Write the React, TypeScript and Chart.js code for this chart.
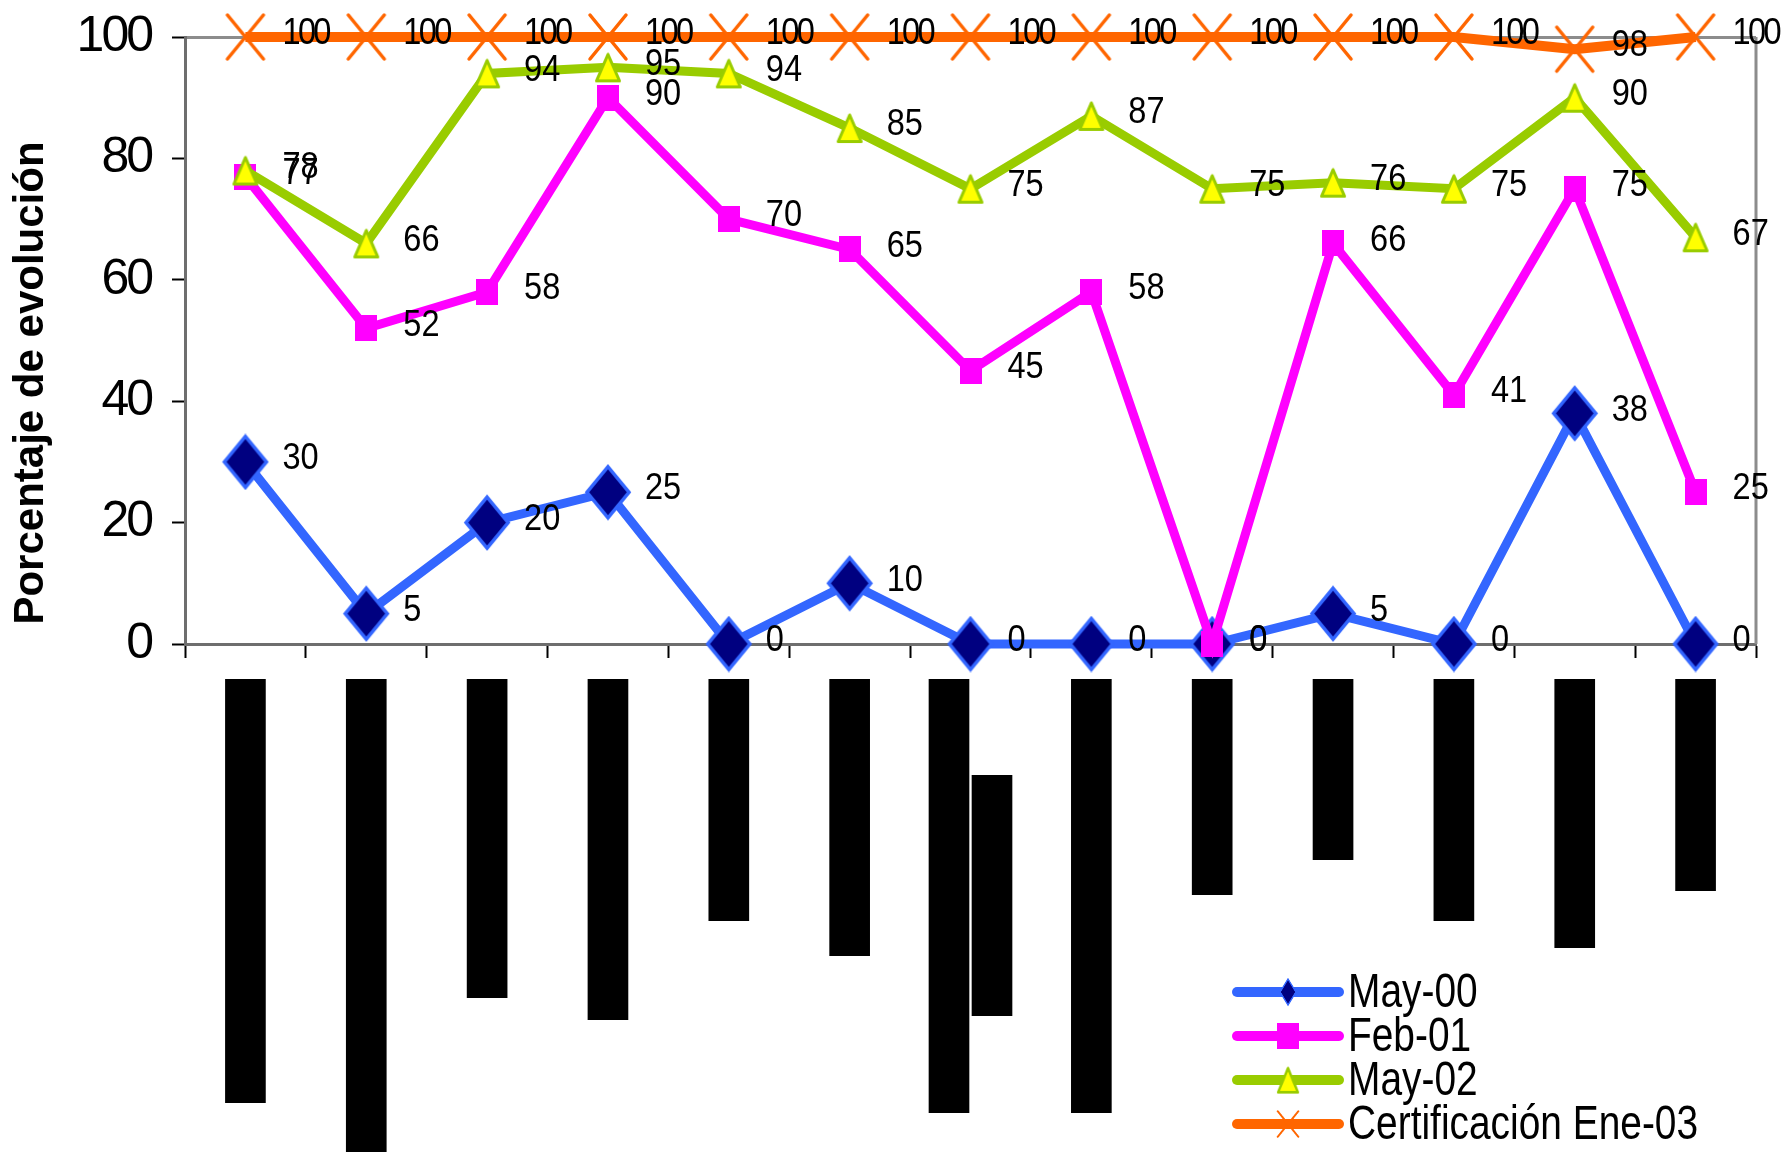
import { useEffect, useRef } from 'react';
import { Chart, registerables } from 'chart.js';

Chart.register(...registerables);

// ---------------- data ----------------
const categories = ['1', '2', '3', '4', '5', '6', '7', '8', '9', '10', '11', '12', '13'];
const seriesNames = ['May-00', 'Feb-01', 'May-02', 'Certificación Ene-03'];
const may00 = [30, 5, 20, 25, 0, 10, 0, 0, 0, 5, 0, 38, 0];
const feb01 = [77, 52, 58, 90, 70, 65, 45, 58, 0, 66, 41, 75, 25];
const may02 = [78, 66, 94, 95, 94, 85, 75, 87, 75, 76, 75, 90, 67];
const certEne03 = [100, 100, 100, 100, 100, 100, 100, 100, 100, 100, 100, 98, 100];
const yTitle = 'Porcentaje de evolución';
const yMin = 0;
const yMax = 100;
const yStep = 20;

// redacted (blacked-out) category labels below the axis, as start/end lengths
const labelBoxStart = [3.5, 3.5, 3.5, 3.5, 3.5, 3.5, 3.5, 3.5, 3.5, 3.5, 3.5, 3.5, 3.5];
const labelBoxEnd = [45.9, 52.0, 35.4, 37.6, 27.7, 31.2, 46.9, 46.9, 25.1, 21.6, 27.7, 30.4, 24.7];
const labelBox2Start = [null, null, null, null, null, null, 13.1, null, null, null, null, null, null];
const labelBox2End = [null, null, null, null, null, null, 37.2, null, null, null, null, null, null];
const labelBoxMax = 50.8;

const FONT = "'Liberation Sans', Arial, Helvetica, sans-serif";
const COLORS = ['#3366FF', '#FF00FF', '#99CC00', '#FF6600'];

// ---------------- marker images ----------------
function makeCanvas(w: number, h: number) {
  const c = document.createElement('canvas');
  c.width = w;
  c.height = h;
  return c;
}

function diamondMarker() {
  const c = makeCanvas(48, 57);
  const ctx = c.getContext('2d')!;
  const cx = 24, cy = 28.5, w = 42, h = 51;
  ctx.beginPath();
  ctx.moveTo(cx, cy - h / 2);
  ctx.lineTo(cx + w / 2, cy);
  ctx.lineTo(cx, cy + h / 2);
  ctx.lineTo(cx - w / 2, cy);
  ctx.closePath();
  ctx.fillStyle = '#000080';
  ctx.fill();
  ctx.lineWidth = 3.5;
  ctx.strokeStyle = '#3366FF';
  ctx.stroke();
  return c;
}

function squareMarker() {
  const c = makeCanvas(22, 26);
  const ctx = c.getContext('2d')!;
  ctx.fillStyle = '#FF00FF';
  ctx.fillRect(0, 0, 22, 26);
  return c;
}

function triangleMarker() {
  const c = makeCanvas(28, 32);
  const ctx = c.getContext('2d')!;
  ctx.beginPath();
  ctx.moveTo(14, 3);
  ctx.lineTo(25.5, 29.5);
  ctx.lineTo(2.5, 29.5);
  ctx.closePath();
  ctx.fillStyle = '#FFFF00';
  ctx.fill();
  ctx.lineWidth = 3;
  ctx.lineJoin = 'round';
  ctx.strokeStyle = '#99CC00';
  ctx.stroke();
  return c;
}

function crossMarker() {
  const c = makeCanvas(42, 50);
  const ctx = c.getContext('2d')!;
  ctx.strokeStyle = '#FF6600';
  ctx.lineWidth = 3.5;
  ctx.lineCap = 'round';
  ctx.beginPath();
  ctx.moveTo(3, 3);
  ctx.lineTo(39, 47);
  ctx.moveTo(39, 3);
  ctx.lineTo(3, 47);
  ctx.stroke();
  return c;
}

export default function App() {
  const canvasRef = useRef<HTMLCanvasElement | null>(null);

  useEffect(() => {
    document.body.style.margin = '0';
    const canvas = canvasRef.current;
    if (!canvas) return;

    const markers = [diamondMarker(), squareMarker(), triangleMarker(), crossMarker()];
    const legendSizes = [
      [18, 29],
      [22, 26],
      [24, 29],
      [24, 29],
    ];
    const lineSeries = [may00, feb01, may02, certEne03];

    const tickSpacingPlugin = {
      id: 'tickSpacing',
      beforeDraw(chart: any) {
        (chart.ctx as any).letterSpacing = '-3px';
      },
    };

    const framePlugin = {
      id: 'frame',
      beforeDatasetsDraw(chart: any) {
        const { ctx, chartArea, scales } = chart;
        const y = scales.y;
        ctx.save();
        ctx.strokeStyle = '#8c8c8c';
        ctx.lineWidth = 3;
        ctx.beginPath();
        ctx.moveTo(chartArea.right, y.getPixelForValue(yMax));
        ctx.lineTo(chartArea.right, y.getPixelForValue(yMin));
        ctx.stroke();
        ctx.restore();
      },
    };

    const pointLabelsPlugin = {
      id: 'pointLabels',
      afterDatasetsDraw(chart: any) {
        const ctx = chart.ctx;
        ctx.save();
        ctx.font = `37px ${FONT}`;
        ctx.fillStyle = '#000';
        ctx.textBaseline = 'middle';
        ctx.textAlign = 'left';
        lineSeries.forEach((vals, di) => {
          const meta = chart.getDatasetMeta(di);
          meta.data.forEach((pt: any, i: number) => {
            const text = String(vals[i]);
            ctx.save();
            ctx.translate(pt.x + 37, pt.y - 3);
            ctx.scale(0.88, 1);
            (ctx as any).letterSpacing = text.length >= 3 ? '-3px' : '0px';
            ctx.fillText(text, 0, 0);
            ctx.restore();
          });
        });
        ctx.restore();
      },
    };

    const legendTitlePlugin = {
      id: 'legendTitle',
      afterDraw(chart: any) {
        const ctx = chart.ctx;
        // y axis title
        ctx.save();
        (ctx as any).letterSpacing = '0px';
        ctx.translate(31, 383);
        ctx.rotate(-Math.PI / 2);
        ctx.font = `bold 42px ${FONT}`;
        ctx.fillStyle = '#000';
        ctx.textAlign = 'center';
        ctx.textBaseline = 'middle';
        ctx.fillText(yTitle, 0, 0);
        ctx.restore();

        // legend
        const x0 = 1237, x1 = 1339, tx = 1348, top = 992, gap = 44;
        seriesNames.forEach((name, i) => {
          const yy = top + i * gap;
          ctx.save();
          (ctx as any).letterSpacing = '0px';
          ctx.strokeStyle = COLORS[i];
          ctx.lineWidth = 10;
          ctx.lineCap = 'round';
          ctx.beginPath();
          ctx.moveTo(x0, yy);
          ctx.lineTo(x1, yy);
          ctx.stroke();
          const [w, h] = legendSizes[i];
          const cx = (x0 + x1) / 2;
          ctx.drawImage(markers[i], cx - w / 2, yy - h / 2, w, h);
          ctx.translate(tx, yy + 2);
          ctx.scale(0.81, 1);
          ctx.font = `48px ${FONT}`;
          ctx.fillStyle = '#000';
          ctx.textAlign = 'left';
          ctx.textBaseline = 'middle';
          ctx.fillText(name, 0, 0);
          ctx.restore();
        });
      },
    };

    const lineDataset = (i: number, data: number[], width: number) => ({
      type: 'line' as const,
      label: seriesNames[i],
      data,
      yAxisID: 'y',
      xAxisID: 'x',
      borderColor: COLORS[i],
      backgroundColor: COLORS[i],
      borderWidth: width,
      tension: 0,
      fill: false,
      clip: false as any,
      pointStyle: markers[i] as any,
      pointRadius: 10,
      order: 4 - i,
    });

    const chart = new Chart(canvas, {
      type: 'line',
      data: {
        labels: categories,
        datasets: [
          lineDataset(0, may00, 9),
          lineDataset(1, feb01, 9),
          lineDataset(2, may02, 9),
          lineDataset(3, certEne03, 10),
          {
            type: 'bar' as const,
            label: 'label-boxes',
            data: labelBoxStart.map((s, i) => [s, labelBoxEnd[i]]) as any,
            yAxisID: 'yb',
            xAxisID: 'x',
            backgroundColor: '#000',
            borderColor: '#fff',
            borderWidth: { left: 1.5, right: 1.5, top: 0, bottom: 0 } as any,
            borderSkipped: false,
            barThickness: 43,
            skipNull: true,
            order: 10,
          } as any,
          {
            type: 'bar' as const,
            label: 'label-boxes-2',
            data: labelBox2Start.map((s, i) => (s === null ? null : [s, labelBox2End[i]])) as any,
            yAxisID: 'yb',
            xAxisID: 'x',
            backgroundColor: '#000',
            borderColor: '#fff',
            borderWidth: { left: 1.5, right: 1.5, top: 0, bottom: 0 } as any,
            borderSkipped: false,
            barThickness: 43,
            skipNull: true,
            order: 11,
          } as any,
        ],
      },
      options: {
        responsive: false,
        devicePixelRatio: 1,
        animation: false,
        events: [],
        layout: { autoPadding: false, padding: { top: 37, right: 31, bottom: 0, left: 0 } },
        plugins: {
          legend: { display: false },
          tooltip: { enabled: false },
          title: { display: false },
        },
        scales: {
          x: {
            type: 'category',
            position: { y: 0 } as any,
            offset: true,
            grid: {
              offset: true,
              drawOnChartArea: false,
              drawTicks: true,
              tickLength: 12,
              tickColor: '#000',
              tickWidth: 2,
            },
            border: { display: true, color: '#6e6e6e', width: 3 },
            ticks: { display: false },
            afterFit: (s: any) => {
              s.height = 0;
              s.paddingLeft = 0;
              s.paddingRight = 0;
            },
          },
          y: {
            type: 'linear',
            position: 'left',
            stack: 'v',
            stackWeight: 607,
            weight: 2,
            min: yMin,
            max: yMax,
            ticks: {
              stepSize: yStep,
              autoSkip: false,
              color: '#000',
              font: { family: FONT, size: 50 },
              padding: 21,
            },
            grid: {
              drawOnChartArea: true,
              color: (c: any) => (c.tick && c.tick.value === yMax ? '#8c8c8c' : 'rgba(0,0,0,0)'),
              lineWidth: 3,
              drawTicks: true,
              tickLength: 13,
              tickColor: '#000',
              tickWidth: 2,
            },
            border: { display: true, color: '#6e6e6e', width: 3 },
            afterFit: (s: any) => {
              s.width = 185;
              s.paddingTop = 0;
              s.paddingBottom = 0;
            },
          },
          yb: {
            type: 'linear',
            position: 'left',
            stack: 'v',
            stackWeight: 508,
            weight: 1,
            reverse: true,
            min: 0,
            max: labelBoxMax,
            ticks: { display: false },
            grid: { display: false },
            border: { display: false },
            afterFit: (s: any) => {
              s.width = 185;
              s.paddingTop = 0;
              s.paddingBottom = 0;
            },
          },
        } as any,
      },
      plugins: [tickSpacingPlugin, framePlugin, pointLabelsPlugin, legendTitlePlugin],
    });

    return () => {
      chart.destroy();
    };
  }, []);

  return (
    <div style={{ width: 1787, height: 1152, position: 'relative', background: '#fff' }}>
      <canvas ref={canvasRef} width={1787} height={1152} style={{ display: 'block', width: 1787, height: 1152 }} />
    </div>
  );
}
